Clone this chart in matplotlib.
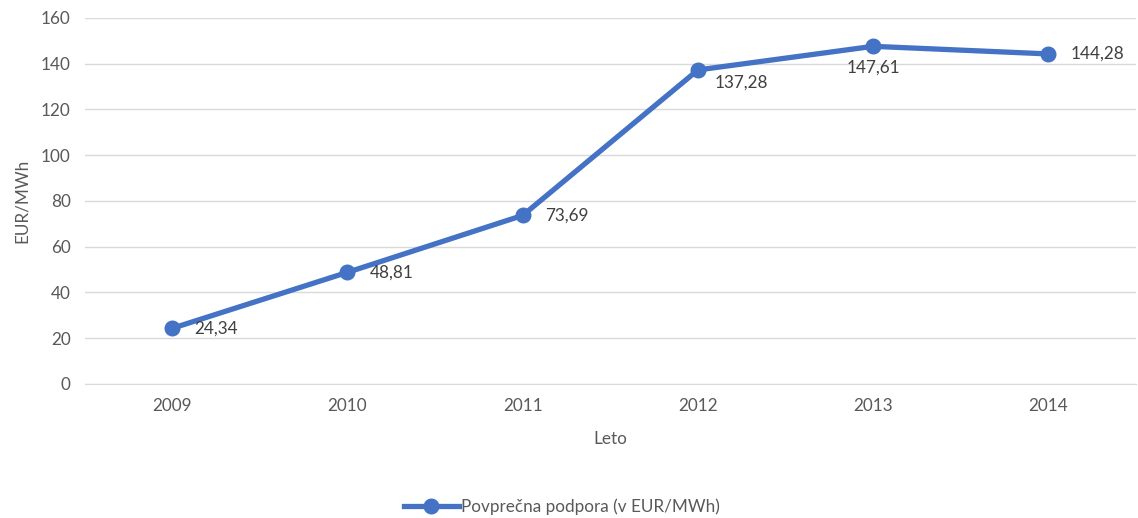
import matplotlib
matplotlib.use("Agg")
import matplotlib.pyplot as plt
from matplotlib.lines import Line2D

years = ["2009", "2010", "2011", "2012", "2013", "2014"]
values = [24.34, 48.81, 73.69, 137.28, 147.61, 144.28]
value_labels = ["24,34", "48,81", "73,69", "137,28", "147,61", "144,28"]
series_name = "Povprečna podpora (v EUR/MWh)"
y_ticks = [0, 20, 40, 60, 80, 100, 120, 140, 160]

plt.rcParams['font.family'] = ['Lato', 'DejaVu Sans']
text_color = "#595959"
blue = "#4472C4"
fs = 12.3

fig = plt.figure(figsize=(11.38, 5.18), dpi=100)
ax = fig.add_axes([0.0743, 0.2587, 0.924, 0.7066])

x = list(range(len(years)))
ax.plot(x, values, color=blue, linewidth=3.8, marker='o', markersize=10.5,
        solid_capstyle='round', zorder=3)

# label offsets (points): (dx, dy, ha, va)
offsets = [(16, 0, 'left', 'center'), (16, 0, 'left', 'center'), (16, 0, 'left', 'center'),
           (12, -9, 'left', 'center'), (0, -15, 'center', 'center'), (16, 0, 'left', 'center')]
for xi, v, lab, (dx, dy, ha, va) in zip(x, values, value_labels, offsets):
    ax.annotate(lab, (xi, v), xytext=(dx, dy), textcoords='offset points',
                ha=ha, va=va, fontsize=fs, color="#404040")

ax.set_xlim(-0.5, len(years) - 0.5)
ax.set_ylim(0, 160)
ax.set_yticks(y_ticks)
ax.set_xticks(x)
ax.set_xticklabels(years)
ax.grid(axis='y', color='#d9d9d9', linewidth=1)
ax.set_axisbelow(True)
for s in ['top', 'right', 'left']:
    ax.spines[s].set_visible(False)
ax.spines['bottom'].set_color('#d9d9d9')
ax.tick_params(axis='both', length=0, labelsize=fs, colors=text_color)
ax.tick_params(axis='x', pad=10)
ax.tick_params(axis='y', pad=10)
ax.set_xlabel("Leto", fontsize=fs, color=text_color, labelpad=12)
ax.set_ylabel("EUR/MWh", fontsize=fs, color=text_color, labelpad=8)

handle = Line2D([], [], color=blue, linewidth=3.8, marker='o', markersize=10.5)
fig.legend([handle], [series_name], loc='center', bbox_to_anchor=(0.494, 0.021),
           frameon=False, fontsize=fs, labelcolor=text_color, handlelength=3.2,
           handletextpad=0.15)

fig.savefig("out.png", dpi=100)
